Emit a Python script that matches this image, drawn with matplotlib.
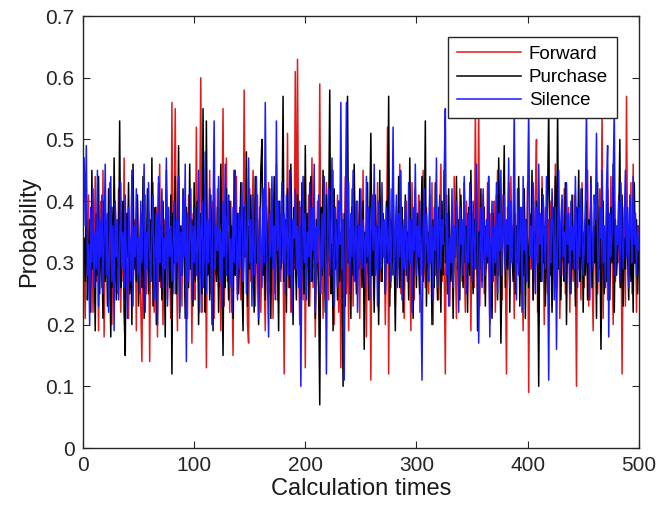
import matplotlib
matplotlib.use("Agg")
import matplotlib.pyplot as plt

# -----------------------------
#  DATA (500 steps each)
# -----------------------------
forward = [
    0.30, 0.21, 0.36, 0.28, 0.41, 0.25, 0.33, 0.38, 0.22, 0.31,
    0.44, 0.27, 0.35, 0.19, 0.32, 0.40, 0.26, 0.45, 0.18, 0.34,
    0.29, 0.37, 0.24, 0.43, 0.31, 0.20, 0.36, 0.28, 0.39, 0.33,
    0.25, 0.42, 0.30, 0.22, 0.35, 0.27, 0.47, 0.24, 0.32, 0.38,
    0.21, 0.34, 0.29, 0.44, 0.26, 0.31, 0.37, 0.19, 0.40, 0.28,
    0.33, 0.23, 0.14, 0.36, 0.29, 0.41, 0.25, 0.32, 0.38, 0.14,
    0.35, 0.27, 0.43, 0.22, 0.30, 0.39, 0.18, 0.34, 0.46, 0.26,
    0.31, 0.20, 0.37, 0.28, 0.42, 0.24, 0.33, 0.29, 0.21, 0.56,
    0.25, 0.38, 0.55, 0.30, 0.19, 0.44, 0.27, 0.35, 0.23, 0.40,
    0.32, 0.26, 0.36, 0.21, 0.41, 0.29, 0.34, 0.17, 0.38, 0.30,
    0.24, 0.52, 0.31, 0.27, 0.39, 0.60, 0.22, 0.35, 0.28, 0.43,
    0.13, 0.37, 0.30, 0.45, 0.25, 0.33, 0.40, 0.21, 0.36, 0.28,
    0.42, 0.26, 0.34, 0.19, 0.38, 0.55, 0.23, 0.31, 0.47, 0.27,
    0.35, 0.22, 0.40, 0.29, 0.15, 0.37, 0.32, 0.44, 0.25, 0.30,
    0.39, 0.24, 0.33, 0.28, 0.58, 0.31, 0.36, 0.20, 0.17, 0.42,
    0.27, 0.34, 0.45, 0.38, 0.23, 0.31, 0.41, 0.26, 0.36, 0.22,
    0.33, 0.40, 0.28, 0.19, 0.37, 0.30, 0.43, 0.25, 0.34, 0.39,
    0.21, 0.36, 0.29, 0.46, 0.24, 0.32, 0.38, 0.27, 0.42, 0.31,
    0.12, 0.35, 0.28, 0.51, 0.26, 0.40, 0.22, 0.33, 0.37, 0.29,
    0.61, 0.27, 0.63, 0.31, 0.20, 0.39, 0.34, 0.24, 0.44, 0.13,
    0.36, 0.29, 0.41, 0.23, 0.33, 0.47, 0.26, 0.38, 0.18, 0.32,
    0.40, 0.25, 0.59, 0.30, 0.35, 0.21, 0.37, 0.28, 0.43, 0.31,
    0.24, 0.39, 0.33, 0.27, 0.45, 0.20, 0.36, 0.30, 0.41, 0.22,
    0.34, 0.13, 0.38, 0.28, 0.32, 0.44, 0.25, 0.37, 0.19, 0.35,
    0.29, 0.42, 0.23, 0.36, 0.31, 0.27, 0.40, 0.34, 0.21, 0.38,
    0.30, 0.45, 0.26, 0.33, 0.18, 0.39, 0.28, 0.35, 0.11, 0.41,
    0.32, 0.24, 0.37, 0.29, 0.43, 0.22, 0.34, 0.27, 0.40, 0.31,
    0.36, 0.20, 0.33, 0.52, 0.12, 0.38, 0.26, 0.42, 0.30, 0.35,
    0.23, 0.39, 0.28, 0.34, 0.46, 0.25, 0.31, 0.37, 0.21, 0.33,
    0.40, 0.27, 0.35, 0.30, 0.19, 0.43, 0.32, 0.24, 0.38, 0.29,
    0.34, 0.41, 0.22, 0.36, 0.28, 0.45, 0.31, 0.26, 0.39, 0.33,
    0.25, 0.37, 0.30, 0.43, 0.20, 0.35, 0.28, 0.40, 0.32, 0.24,
    0.38, 0.46, 0.27, 0.34, 0.29, 0.12, 0.41, 0.31, 0.36, 0.23,
    0.33, 0.39, 0.26, 0.44, 0.30, 0.21, 0.37, 0.28, 0.42, 0.34,
    0.27, 0.35, 0.31, 0.22, 0.40, 0.29, 0.36, 0.33, 0.19, 0.38,
    0.30, 0.26, 0.55, 0.34, 0.28, 0.56, 0.23, 0.37, 0.32, 0.41,
    0.25, 0.36, 0.29, 0.43, 0.31, 0.20, 0.38, 0.27, 0.34, 0.40,
    0.22, 0.33, 0.45, 0.28, 0.37, 0.30, 0.24, 0.41, 0.35, 0.29,
    0.12, 0.39, 0.32, 0.26, 0.44, 0.31, 0.36, 0.21, 0.38, 0.28,
    0.34, 0.42, 0.25, 0.37, 0.30, 0.19, 0.40, 0.33, 0.27, 0.43,
    0.09, 0.35, 0.29, 0.38, 0.24, 0.33, 0.41, 0.50, 0.22, 0.36,
    0.31, 0.27, 0.44, 0.34, 0.20, 0.39, 0.30, 0.25, 0.37, 0.32,
    0.40, 0.23, 0.35, 0.29, 0.46, 0.26, 0.33, 0.38, 0.21, 0.31,
    0.36, 0.28, 0.42, 0.25, 0.34, 0.30, 0.39, 0.22, 0.37, 0.33,
    0.27, 0.41, 0.31, 0.10, 0.38, 0.29, 0.35, 0.24, 0.43, 0.32,
    0.26, 0.37, 0.30, 0.45, 0.23, 0.34, 0.40, 0.28, 0.19, 0.36,
    0.31, 0.39, 0.25, 0.33, 0.42, 0.28, 0.55, 0.21, 0.35, 0.30,
    0.38, 0.24, 0.36, 0.29, 0.44, 0.32, 0.20, 0.40, 0.27, 0.34,
    0.30, 0.41, 0.26, 0.37, 0.12, 0.33, 0.39, 0.23, 0.57, 0.31,
    0.35, 0.28, 0.43, 0.25, 0.46, 0.30, 0.38, 0.22, 0.34, 0.36,
]

purchase = [
    0.34, 0.27, 0.41, 0.24, 0.30, 0.37, 0.22, 0.45, 0.29, 0.33,
    0.19, 0.38, 0.28, 0.44, 0.25, 0.35, 0.31, 0.21, 0.40, 0.27,
    0.36, 0.23, 0.42, 0.30, 0.18, 0.39, 0.26, 0.47, 0.32, 0.24,
    0.37, 0.29, 0.53, 0.26, 0.34, 0.40, 0.22, 0.15, 0.38, 0.31,
    0.43, 0.25, 0.33, 0.20, 0.46, 0.29, 0.36, 0.27, 0.41, 0.23,
    0.32, 0.38, 0.26, 0.44, 0.21, 0.35, 0.30, 0.42, 0.25, 0.37,
    0.28, 0.47, 0.23, 0.34, 0.39, 0.20, 0.31, 0.43, 0.27, 0.36,
    0.24, 0.40, 0.32, 0.18, 0.45, 0.29, 0.35, 0.26, 0.41, 0.12,
    0.38, 0.30, 0.44, 0.25, 0.33, 0.49, 0.22, 0.36, 0.28, 0.42,
    0.31, 0.21, 0.39, 0.34, 0.26, 0.46, 0.29, 0.37, 0.23, 0.43,
    0.27, 0.35, 0.40, 0.20, 0.32, 0.38, 0.25, 0.55, 0.30, 0.22,
    0.53, 0.28, 0.36, 0.24, 0.41, 0.31, 0.19, 0.44, 0.33, 0.27,
    0.39, 0.22, 0.35, 0.46, 0.29, 0.15, 0.37, 0.26, 0.42, 0.32,
    0.24, 0.40, 0.30, 0.36, 0.21, 0.45, 0.28, 0.34, 0.38, 0.25,
    0.33, 0.43, 0.27, 0.19, 0.39, 0.31, 0.48, 0.23, 0.36, 0.29,
    0.41, 0.26, 0.34, 0.22, 0.44, 0.30, 0.37, 0.20, 0.32, 0.45,
    0.50, 0.28, 0.35, 0.24, 0.39, 0.31, 0.27, 0.42, 0.21, 0.36,
    0.30, 0.44, 0.25, 0.38, 0.33, 0.19, 0.40, 0.29, 0.35, 0.57,
    0.27, 0.37, 0.22, 0.42, 0.31, 0.26, 0.46, 0.34, 0.20, 0.39,
    0.32, 0.24, 0.41, 0.28, 0.36, 0.18, 0.43, 0.30, 0.25, 0.49,
    0.29, 0.38, 0.23, 0.35, 0.44, 0.27, 0.33, 0.40, 0.21, 0.37,
    0.31, 0.26, 0.07, 0.39, 0.28, 0.45, 0.34, 0.22, 0.41, 0.30,
    0.36, 0.58, 0.25, 0.33, 0.19, 0.42, 0.29, 0.37, 0.24, 0.40,
    0.27, 0.35, 0.31, 0.10, 0.38, 0.23, 0.44, 0.57, 0.30, 0.34,
    0.21, 0.39, 0.28, 0.46, 0.32, 0.25, 0.36, 0.29, 0.42, 0.33,
    0.26, 0.40, 0.16, 0.35, 0.30, 0.43, 0.24, 0.37, 0.51, 0.28,
    0.34, 0.22, 0.41, 0.29, 0.36, 0.20, 0.45, 0.31, 0.27, 0.38,
    0.33, 0.25, 0.40, 0.30, 0.57, 0.23, 0.37, 0.28, 0.43, 0.32,
    0.19, 0.36, 0.29, 0.44, 0.26, 0.34, 0.39, 0.22, 0.31, 0.41,
    0.28, 0.35, 0.24, 0.47, 0.30, 0.37, 0.21, 0.33, 0.42, 0.26,
    0.38, 0.30, 0.25, 0.36, 0.44, 0.27, 0.32, 0.53, 0.23, 0.35,
    0.29, 0.41, 0.33, 0.20, 0.37, 0.26, 0.43, 0.31, 0.24, 0.39,
    0.34, 0.22, 0.40, 0.28, 0.45, 0.30, 0.36, 0.25, 0.42, 0.32,
    0.27, 0.38, 0.21, 0.35, 0.31, 0.44, 0.29, 0.37, 0.24, 0.41,
    0.33, 0.26, 0.43, 0.30, 0.36, 0.22, 0.39, 0.28, 0.45, 0.31,
    0.25, 0.37, 0.32, 0.40, 0.19, 0.35, 0.29, 0.42, 0.27, 0.34,
    0.39, 0.23, 0.36, 0.30, 0.44, 0.26, 0.33, 0.21, 0.38, 0.31,
    0.28, 0.41, 0.24, 0.47, 0.34, 0.17, 0.30, 0.37, 0.49, 0.26,
    0.35, 0.29, 0.43, 0.22, 0.38, 0.32, 0.27, 0.40, 0.25, 0.36,
    0.30, 0.44, 0.23, 0.34, 0.39, 0.28, 0.42, 0.21, 0.37, 0.33,
    0.26, 0.38, 0.31, 0.45, 0.24, 0.35, 0.29, 0.40, 0.33, 0.10,
    0.37, 0.27, 0.42, 0.30, 0.36, 0.23, 0.33, 0.41, 0.55, 0.28,
    0.34, 0.22, 0.39, 0.31, 0.44, 0.26, 0.55, 0.29, 0.36, 0.24,
    0.40, 0.32, 0.27, 0.43, 0.20, 0.37, 0.30, 0.35, 0.25, 0.41,
    0.29, 0.36, 0.23, 0.39, 0.33, 0.45, 0.27, 0.31, 0.42, 0.22,
    0.35, 0.28, 0.40, 0.24, 0.37, 0.32, 0.44, 0.26, 0.34, 0.30,
    0.38, 0.21, 0.43, 0.29, 0.36, 0.16, 0.31, 0.40, 0.25, 0.35,
    0.27, 0.42, 0.33, 0.24, 0.39, 0.30, 0.46, 0.22, 0.37, 0.28,
    0.32, 0.36, 0.50, 0.26, 0.41, 0.23, 0.34, 0.29, 0.38, 0.31,
    0.24, 0.40, 0.27, 0.35, 0.22, 0.43, 0.30, 0.37, 0.25, 0.33,
]

silence = [
    0.47, 0.36, 0.49, 0.28, 0.33, 0.20, 0.39, 0.30, 0.42, 0.26,
    0.35, 0.29, 0.45, 0.23, 0.37, 0.31, 0.41, 0.25, 0.34, 0.46,
    0.28, 0.38, 0.22, 0.33, 0.44, 0.27, 0.36, 0.19, 0.40, 0.31,
    0.37, 0.24, 0.32, 0.43, 0.29, 0.35, 0.26, 0.41, 0.30, 0.21,
    0.39, 0.33, 0.27, 0.45, 0.23, 0.36, 0.31, 0.42, 0.28, 0.34,
    0.25, 0.40, 0.30, 0.37, 0.46, 0.22, 0.35, 0.29, 0.43, 0.32,
    0.27, 0.36, 0.41, 0.24, 0.33, 0.38, 0.20, 0.44, 0.30, 0.35,
    0.42, 0.26, 0.34, 0.29, 0.47, 0.23, 0.39, 0.31, 0.36, 0.27,
    0.33, 0.40, 0.25, 0.37, 0.30, 0.44, 0.21, 0.35, 0.28, 0.41,
    0.31, 0.46, 0.14, 0.38, 0.27, 0.34, 0.42, 0.24, 0.36, 0.30,
    0.39, 0.28, 0.33, 0.45, 0.22, 0.35, 0.40, 0.26, 0.31, 0.48,
    0.25, 0.37, 0.30, 0.42, 0.34, 0.20, 0.38, 0.53, 0.29, 0.36,
    0.32, 0.44, 0.27, 0.35, 0.23, 0.40, 0.31, 0.46, 0.28, 0.37,
    0.41, 0.26, 0.34, 0.22, 0.39, 0.30, 0.45, 0.33, 0.24, 0.38,
    0.29, 0.36, 0.43, 0.27, 0.32, 0.40, 0.25, 0.35, 0.47, 0.30,
    0.37, 0.23, 0.41, 0.31, 0.28, 0.44, 0.34, 0.21, 0.39, 0.33,
    0.26, 0.42, 0.30, 0.56, 0.35, 0.27, 0.18, 0.38, 0.31, 0.44,
    0.29, 0.36, 0.24, 0.53, 0.32, 0.40, 0.27, 0.35, 0.43, 0.30,
    0.38, 0.25, 0.41, 0.33, 0.28, 0.45, 0.31, 0.22, 0.37, 0.34,
    0.42, 0.29, 0.36, 0.26, 0.40, 0.10, 0.33, 0.44, 0.30, 0.38,
    0.24, 0.35, 0.31, 0.43, 0.27, 0.39, 0.32, 0.46, 0.22, 0.36,
    0.30, 0.41, 0.34, 0.25, 0.38, 0.29, 0.44, 0.33, 0.12, 0.37,
    0.42, 0.28, 0.35, 0.47, 0.31, 0.23, 0.39, 0.34, 0.26, 0.40,
    0.33, 0.56, 0.29, 0.37, 0.11, 0.36, 0.56, 0.30, 0.43, 0.25,
    0.38, 0.31, 0.45, 0.27, 0.34, 0.40, 0.22, 0.36, 0.30, 0.42,
    0.29, 0.37, 0.33, 0.26, 0.44, 0.31, 0.39, 0.24, 0.35, 0.41,
    0.32, 0.46, 0.28, 0.36, 0.23, 0.40, 0.34, 0.29, 0.43, 0.31,
    0.37, 0.25, 0.39, 0.33, 0.30, 0.42, 0.27, 0.35, 0.52, 0.28,
    0.34, 0.41, 0.26, 0.38, 0.31, 0.45, 0.24, 0.36, 0.29, 0.40,
    0.33, 0.27, 0.43, 0.30, 0.37, 0.22, 0.39, 0.32, 0.46, 0.28,
    0.36, 0.31, 0.40, 0.25, 0.11, 0.35, 0.42, 0.29, 0.38, 0.33,
    0.27, 0.44, 0.30, 0.36, 0.24, 0.39, 0.32, 0.47, 0.26, 0.35,
    0.41, 0.29, 0.37, 0.33, 0.45, 0.55, 0.28, 0.38, 0.23, 0.34,
    0.30, 0.42, 0.26, 0.36, 0.31, 0.40, 0.35, 0.22, 0.39, 0.33,
    0.37, 0.28, 0.44, 0.32, 0.25, 0.38, 0.30, 0.43, 0.34, 0.27,
    0.40, 0.33, 0.29, 0.46, 0.36, 0.17, 0.31, 0.39, 0.26, 0.42,
    0.35, 0.28, 0.37, 0.31, 0.44, 0.18, 0.33, 0.40, 0.27, 0.36,
    0.30, 0.43, 0.25, 0.38, 0.32, 0.45, 0.28, 0.35, 0.41, 0.29,
    0.37, 0.33, 0.47, 0.26, 0.40, 0.30, 0.36, 0.55, 0.31, 0.24,
    0.42, 0.28, 0.35, 0.39, 0.22, 0.44, 0.32, 0.37, 0.27, 0.40,
    0.55, 0.31, 0.36, 0.29, 0.43, 0.34, 0.25, 0.39, 0.30, 0.46,
    0.33, 0.38, 0.27, 0.41, 0.35, 0.29, 0.44, 0.32, 0.11, 0.37,
    0.30, 0.42, 0.36, 0.24, 0.39, 0.16, 0.34, 0.45, 0.28, 0.37,
    0.41, 0.31, 0.35, 0.27, 0.43, 0.33, 0.38, 0.25, 0.40, 0.32,
    0.36, 0.29, 0.44, 0.34, 0.26, 0.39, 0.31, 0.42, 0.37, 0.28,
    0.33, 0.40, 0.55, 0.30, 0.36, 0.24, 0.43, 0.35, 0.29, 0.41,
    0.37, 0.51, 0.32, 0.27, 0.39, 0.34, 0.45, 0.30, 0.36, 0.26,
    0.42, 0.49, 0.18, 0.38, 0.31, 0.35, 0.44, 0.55, 0.28, 0.36,
    0.33, 0.40, 0.27, 0.43, 0.34, 0.29, 0.37, 0.45, 0.31, 0.39,
    0.26, 0.41, 0.35, 0.30, 0.44, 0.33, 0.38, 0.28, 0.36, 0.32,
]

steps = list(range(1, len(forward) + 1))
x_ticks = [0, 100, 200, 300, 400, 500]
y_ticks = [0, 0.1, 0.2, 0.3, 0.4, 0.5, 0.6, 0.7]
y_tick_labels = ["0", "0.1", "0.2", "0.3", "0.4", "0.5", "0.6", "0.7"]

plt.rcParams["font.family"] = ["Liberation Sans", "DejaVu Sans"]

fig = plt.figure(figsize=(6.72, 5.13), dpi=100)
ax = fig.add_axes([0.1235, 0.1267, 0.827, 0.842])

ax.plot(steps, forward, color="#e01b1b", lw=1.1, label="Forward")
ax.plot(steps, purchase, color="black", lw=1.1, label="Purchase")
ax.plot(steps, silence, color="#1a1aff", lw=1.1, label="Silence")

ax.set_xlim(0, 500)
ax.set_ylim(0, 0.7)
ax.set_xticks(x_ticks)
ax.set_yticks(y_ticks)
ax.set_yticklabels(y_tick_labels)
ax.tick_params(direction="in", top=True, right=True, length=5,
               labelsize=15, colors="#262626", pad=6)
for s in ax.spines.values():
    s.set_color("#262626")
    s.set_linewidth(1.0)

ax.set_xlabel("Calculation times", fontsize=17, color="#1a1a1a", labelpad=2)
ax.set_ylabel("Probability", fontsize=17, color="#1a1a1a", labelpad=4)

leg = ax.legend(loc="upper right", bbox_to_anchor=(0.96, 0.951),
                borderaxespad=0, fontsize=13.5, fancybox=False,
                edgecolor="#262626", framealpha=1, handlelength=3.45,
                labelspacing=0.33, handletextpad=0.4, borderpad=0.45)
leg.get_frame().set_linewidth(1.0)

fig.savefig("out.png", dpi=100)
